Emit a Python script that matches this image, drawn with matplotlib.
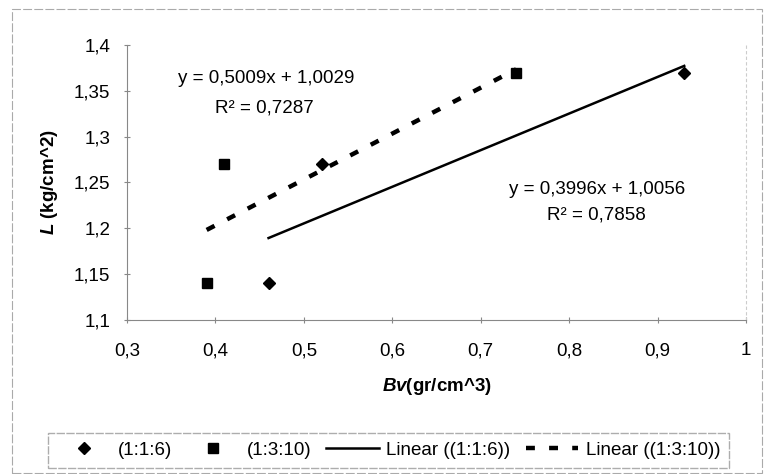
import matplotlib.pyplot as plt
import numpy as np
from matplotlib.patches import Rectangle

plt.rcParams['font.family'] = ['Liberation Sans', 'DejaVu Sans']
plt.rcParams['mathtext.fontset'] = 'custom'
plt.rcParams['mathtext.bfit'] = 'Liberation Sans:bold:italic'
plt.rcParams['mathtext.rm'] = 'Liberation Sans'

# datos
bv_116 = [0.46, 0.52, 0.93]
l_116 = [1.14, 1.27, 1.37]
bv_1310 = [0.39, 0.41, 0.74]
l_1310 = [1.14, 1.27, 1.37]

xticks = [0.3, 0.4, 0.5, 0.6, 0.7, 0.8, 0.9, 1.0]
yticks = [1.1, 1.15, 1.2, 1.25, 1.3, 1.35, 1.4]

fs = 13.5

fig = plt.figure(figsize=(7.7, 4.74), dpi=100)
ax = fig.add_axes([0.165, 0.325, 0.804, 0.58])

# puntos
ax.plot(bv_116, l_116, 'D', color='black', markersize=6, label='(1:1:6)')
ax.plot(bv_1310, l_1310, 's', color='black', markersize=7, label='(1:3:10)')

# lineas de tendencia
m1, b1 = np.polyfit(bv_116, l_116, 1)
m2, b2 = np.polyfit(bv_1310, l_1310, 1)
xs1 = np.array([min(bv_116), max(bv_116)])
xs2 = np.array([min(bv_1310), max(bv_1310)])
ax.plot(xs1, m1 * xs1 + b1, '-', color='black', lw=1.8, label='Linear ((1:1:6))')
ax.plot(xs2, m2 * xs2 + b2, color='black', lw=3.2, dashes=(2.0, 3.2), label='Linear ((1:3:10))')

r1 = np.corrcoef(bv_116, l_116)[0, 1] ** 2
r2 = np.corrcoef(bv_1310, l_1310)[0, 1] ** 2

def fmt(v):
    return f"{v:.4f}".replace('.', ',')

ax.text(0.457, 1.364, f"y = {fmt(m2)}x + {fmt(b2)}", fontsize=fs, ha='center', va='center')
ax.text(0.455, 1.331, f"R² = {fmt(r2)}", fontsize=fs, ha='center', va='center')
ax.text(0.831, 1.242, f"y = {fmt(m1)}x + {fmt(b1)}", fontsize=fs, ha='center', va='center')
ax.text(0.831, 1.2145, f"R² = {fmt(r1)}", fontsize=fs, ha='center', va='center')

ax.set_xlim(0.3, 1.0)
ax.set_ylim(1.1, 1.4)
ax.set_xticks(xticks)
ax.set_yticks(yticks)
ax.set_xticklabels([("%g" % t).replace('.', ',') for t in xticks], fontsize=fs)
ax.set_yticklabels([("%g" % t).replace('.', ',') for t in yticks], fontsize=fs)
ax.tick_params(axis='x', direction='inout', length=4, color='#888888', pad=14)
ax.tick_params(axis='y', direction='inout', length=4, color='#888888', pad=10)

for s in ['left', 'bottom']:
    ax.spines[s].set_color('#888888')
    ax.spines[s].set_linestyle((0, (6, 1)))
ax.spines['top'].set_visible(False)
ax.spines['right'].set_color('#cccccc')
ax.spines['right'].set_linestyle((0, (2, 3)))

ax.set_xlabel(r"$\mathbfit{Bv}$(gr/cm^3)", fontsize=fs, fontweight='bold', labelpad=12)
ax.set_ylabel(r"$\mathbfit{L}$ (kg/cm^2)", fontsize=fs, fontweight='bold', labelpad=10)

leg = fig.legend(loc='lower center', bbox_to_anchor=(0.505, -0.008), ncol=4, fontsize=fs,
                 frameon=True, fancybox=False, edgecolor='#999999', handlelength=2.8,
                 columnspacing=0.8, handletextpad=0.4, borderpad=0.5)
leg.get_frame().set_linestyle((0, (6, 1)))

# borde exterior
fig.patches.append(Rectangle((0.015, 0.002), 0.975, 0.978, transform=fig.transFigure,
                             fill=False, edgecolor='#aaaaaa', lw=0.8, linestyle=(0, (8, 2))))

fig.savefig('out.png', dpi=100)
